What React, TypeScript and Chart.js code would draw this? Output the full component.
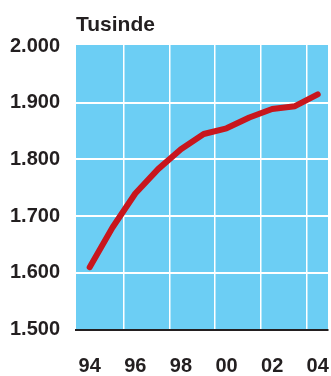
import React, { useEffect, useRef } from 'react';
import { Chart, registerables } from 'chart.js';

Chart.register(...registerables);

// Population, in thousands, by year
const years = [1994, 1995, 1996, 1997, 1998, 1999, 2000, 2001, 2002, 2003, 2004];
const persons = [1610, 1680, 1740, 1783, 1818, 1845, 1855, 1874, 1889, 1894, 1915];

// Axis ticks and labels
const xLabelYears = [1994, 1996, 1998, 2000, 2002, 2004];
const xLabels = ['94', '96', '98', '00', '02', '04'];
const xGridYears = [1995.5, 1997.5, 1999.5, 2001.5, 2003.5];
const yTicks = [1500, 1600, 1700, 1800, 1900, 2000];
const yLabels = ['1.500', '1.600', '1.700', '1.800', '1.900', '2.000'];
const yGridValues = [1600, 1700, 1800, 1900];
const unitTitle = 'Tusinde';

const FONT = "'Liberation Sans', Arial, sans-serif";
const TEXT = '#231f20';
const PLOT_BG = '#6ccef4';
const LINE = '#c8161d';
const NONE = 'rgba(0,0,0,0)';

const plotBackground = {
  id: 'plotBackground',
  beforeDraw(chart: Chart) {
    const { ctx, chartArea } = chart;
    ctx.save();
    ctx.fillStyle = PLOT_BG;
    ctx.fillRect(chartArea.left, chartArea.top, chartArea.width, chartArea.height);
    ctx.restore();
  },
};

export default function App() {
  const canvasRef = useRef<HTMLCanvasElement | null>(null);

  useEffect(() => {
    const canvas = canvasRef.current;
    if (!canvas) return;
    const chart = new Chart(canvas, {
      type: 'line',
      data: {
        datasets: [
          {
            data: years.map((y, i) => ({ x: y, y: persons[i] })),
            borderColor: LINE,
            borderWidth: 6,
            borderCapStyle: 'round',
            borderJoinStyle: 'round',
            pointRadius: 0,
            tension: 0,
            fill: false,
          },
        ],
      },
      options: {
        responsive: false,
        animation: false,
        layout: { padding: { left: 0, right: 3, top: 0, bottom: 0 } },
        plugins: {
          legend: { display: false },
          tooltip: { enabled: false },
          title: {
            display: true,
            text: unitTitle,
            align: 'start',
            fullSize: false,
            color: TEXT,
            font: { family: FONT, size: 21, weight: 'bold', lineHeight: 1.2 },
            padding: { top: 12.4, bottom: 7.4 },
          },
        },
        scales: {
          x: {
            type: 'linear',
            min: 1993.4,
            max: 2004.45,
            afterBuildTicks: (scale: any) => {
              scale.ticks = [...xLabelYears, ...xGridYears]
                .sort((a, b) => a - b)
                .map((value) => ({ value }));
            },
            afterFit: (scale: any) => {
              scale.height = 46.5;
              scale.paddingLeft = 0;
              scale.paddingRight = 0;
            },
            ticks: {
              autoSkip: false,
              maxRotation: 0,
              padding: 25,
              color: TEXT,
              font: { family: FONT, size: 20, weight: 'bold' },
              callback: (value: any) => {
                const i = xLabelYears.indexOf(Number(value));
                return i >= 0 ? xLabels[i] : '';
              },
            },
            grid: {
              drawTicks: false,
              lineWidth: 1.5,
              color: (ctx: any) =>
                ctx.tick && xGridYears.includes(ctx.tick.value) ? '#ffffff' : NONE,
            },
            border: { display: true, color: TEXT, width: 2 },
          },
          y: {
            type: 'linear',
            min: 1500,
            max: 2002,
            afterBuildTicks: (scale: any) => {
              scale.ticks = yTicks.map((value) => ({ value }));
            },
            afterFit: (scale: any) => {
              scale.width = 76;
              scale.paddingTop = 0;
              scale.paddingBottom = 0;
            },
            ticks: {
              padding: 16,
              color: TEXT,
              font: { family: FONT, size: 20, weight: 'bold' },
              callback: (_value: any, index: number) => yLabels[index],
            },
            grid: {
              drawTicks: false,
              lineWidth: 2,
              color: (ctx: any) =>
                ctx.tick && yGridValues.includes(ctx.tick.value) ? '#ffffff' : NONE,
            },
            border: { display: false },
          },
        },
      },
      plugins: [plotBackground],
    });
    return () => chart.destroy();
  }, []);

  return (
    <div style={{ position: 'fixed', left: 0, top: 0, width: 331, height: 376 }}>
      <canvas ref={canvasRef} width={331} height={376} style={{ display: 'block' }} />
    </div>
  );
}
